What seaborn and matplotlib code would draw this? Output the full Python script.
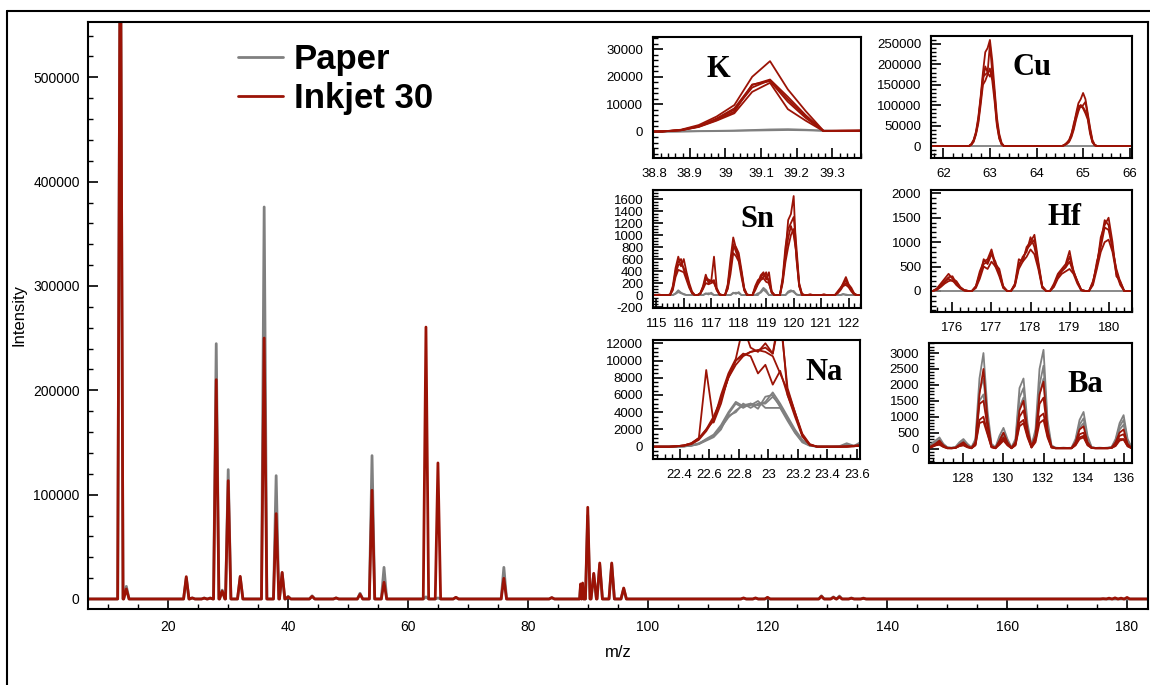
import numpy as np
import pandas as pd
import matplotlib
matplotlib.use("Agg")
import matplotlib.pyplot as plt
import seaborn as sns
from matplotlib.ticker import MultipleLocator, FuncFormatter
from matplotlib.lines import Line2D

# ---------------- data ----------------
# main spectrum: peak centres (m/z) and apex intensities
PEAK_MZ = [12, 13, 23, 24, 26, 27, 28, 29, 30, 32, 36, 38, 39, 40, 44, 48, 52, 54, 56,
           63, 65, 68, 76, 84, 88.8, 89.15, 90, 91, 92, 94, 96, 116, 118, 120,
           129, 131, 132, 134, 136, 176, 177, 178, 179, 180]
PAPER_H = [700000, 12100, 20000, 1000, 1000, 1000, 244700, 8500, 124000, 21000, 375700,
           118200, 25000, 2500, 3000, 1000, 5500, 137400, 30300,
           2000, 1000, 1500, 30300, 1300, 12000, 14000, 80000, 24000, 33000, 33500, 10000,
           800, 800, 1200, 3000, 2000, 2800, 1000, 900, 0, 0, 0, 0, 0]
INKJET_H = [700000, 9600, 21400, 1000, 800, 800, 210200, 7500, 113400, 21700, 250100,
            81800, 25500, 2000, 2500, 1000, 4500, 104200, 16000,
            260600, 130400, 1600, 19800, 1300, 14400, 15300, 87900, 24600, 34500, 34500, 10500,
            1000, 1000, 1600, 2500, 1500, 2000, 700, 600, 300, 800, 1100, 800, 1500]

# K inset
K_X = [38.775, 38.825, 38.875, 38.925, 38.975, 39.025, 39.075, 39.125, 39.175, 39.225,
       39.275, 39.325, 39.375, 39.425]
K_INK = [
    [0, 100, 700, 2400, 5500, 9700, 20000, 25700, 15400, 7500, 300, 400, 400, 500],
    [0, 100, 600, 2000, 4800, 8500, 17000, 19000, 12700, 6000, 300, 300, 400, 400],
    [0, 100, 500, 1800, 4200, 7300, 17200, 18400, 10900, 5000, 200, 300, 300, 400],
    [0, 100, 500, 1700, 4000, 6700, 14500, 17800, 8200, 4000, 200, 200, 300, 300],
    [0, 100, 550, 1900, 4500, 8000, 16100, 18800, 11800, 5500, 250, 300, 350, 400],
]
K_PAPER = [
    [0, 0, 100, 200, 300, 400, 600, 800, 900, 700, 400, 300, 300, 300],
    [0, 0, 50, 150, 200, 300, 400, 500, 600, 500, 300, 200, 200, 200],
]

# Cu inset
CU_X = [61.7, 62.55, 62.6, 62.65, 62.7, 62.75, 62.8, 62.85, 62.9, 62.95, 63.0, 63.05, 63.1,
        63.15, 63.2, 63.25, 63.3, 64.55, 64.6, 64.65, 64.7, 64.75, 64.8, 64.85, 64.9, 64.95,
        65.0, 65.05, 65.1, 65.15, 65.2, 65.25, 65.3, 66.1]
CU_INK = [
    [0, 0, 5000, 15000, 35000, 70000, 120000, 180000, 230000, 240000, 260000, 210000, 140000,
     70000, 30000, 8000, 0, 0, 3000, 8000, 15000, 30000, 50000, 80000, 105000, 115000,
     130000, 115000, 80000, 45000, 15000, 3000, 0, 0],
    [0, 0, 3000, 12000, 30000, 60000, 110000, 160000, 195000, 180000, 250000, 180000, 130000,
     60000, 25000, 5000, 0, 0, 2000, 6000, 12000, 25000, 45000, 70000, 100000, 95000,
     100000, 108000, 75000, 40000, 12000, 2000, 0, 0],
    [0, 0, 4000, 14000, 32000, 65000, 115000, 170000, 175000, 180000, 170000, 185000, 120000,
     55000, 20000, 5000, 0, 0, 2500, 7000, 13000, 28000, 55000, 75000, 90000, 100000,
     95000, 85000, 70000, 35000, 10000, 2000, 0, 0],
    [0, 0, 3000, 10000, 28000, 55000, 100000, 150000, 160000, 175000, 190000, 160000, 110000,
     50000, 18000, 4000, 0, 0, 2000, 5000, 10000, 22000, 40000, 65000, 85000, 100000,
     92000, 80000, 65000, 30000, 9000, 1500, 0, 0],
]
CU_PAPER_X = [61.7, 66.1]
CU_PAPER = [[0, 0]]

# Sn inset (grid 114.7 ... 122.4, step 0.1)
SN_X = np.round(np.arange(114.7, 122.45, 0.1), 2)
SN_INK = [
    [0, 0, 0, 0, 10, 0, 0, 0,
     10, 150, 450, 640, 480, 600, 380, 200, 60, 0,
     0, 20, 120, 300, 250, 230, 640, 120, 20, 0,
     0, 180, 600, 960, 780, 650, 350, 80, 0, 0,
     0, 100, 200, 330, 380, 260, 380, 60, 0, 0,
     0, 250, 700, 1250, 1350, 1650, 600, 150, 0, 0,
     0, 15, 0, 0, 0, 0, 15, 0, 0, 0,
     0, 40, 100, 200, 300, 180, 120, 30, 0, 0],
    [0, 0, 0, 0, 0, 0, 0, 0,
     0, 100, 400, 550, 600, 420, 350, 150, 40, 0,
     0, 30, 150, 340, 200, 250, 220, 100, 10, 0,
     0, 120, 450, 780, 800, 700, 420, 120, 10, 0,
     0, 150, 250, 280, 300, 380, 200, 40, 0, 0,
     0, 300, 800, 1100, 1200, 1300, 800, 200, 20, 0,
     0, 0, 0, 0, 0, 0, 0, 0, 0, 0,
     0, 60, 120, 180, 250, 150, 80, 20, 0, 0],
    [0, 0, 0, 0, 0, 0, 0, 0,
     0, 80, 300, 420, 400, 380, 250, 120, 30, 0,
     0, 20, 100, 200, 180, 200, 250, 80, 10, 0,
     0, 100, 350, 700, 650, 560, 300, 80, 0, 0,
     0, 80, 180, 250, 280, 220, 200, 40, 0, 0,
     0, 200, 550, 800, 1000, 1100, 650, 150, 10, 0,
     0, 0, 0, 0, 0, 0, 0, 0, 0, 0,
     0, 30, 80, 150, 170, 130, 60, 10, 0, 0],
    [0, 0, 0, 0, 0, 0, 0, 0,
     0, 120, 350, 500, 520, 450, 300, 150, 40, 0,
     0, 30, 130, 250, 260, 220, 200, 90, 10, 0,
     0, 150, 500, 850, 720, 600, 380, 100, 10, 0,
     0, 120, 220, 300, 350, 300, 250, 60, 0, 0,
     0, 250, 650, 950, 1150, 1000, 700, 180, 20, 0,
     0, 0, 0, 0, 0, 0, 0, 0, 0, 0,
     0, 50, 100, 160, 200, 160, 90, 20, 0, 0],
]
SN_PAPER = [
    [0, 0, 0, 0, 0, 0, 0, 0,
     0, 0, 30, 80, 40, 10, 0, 0, 0, 0,
     0, 0, 0, 30, 10, 40, 0, 0, 0, 0,
     0, 0, 0, 40, 20, 50, 0, 0, 0, 0,
     0, 0, 0, 60, 120, 80, 0, 0, 0, 0,
     0, 0, 0, 60, 80, 50, 10, 0, 0, 0,
     0, 0, 0, 0, 0, 0, 0, 0, 0, 0,
     0, 0, 0, 20, 0, 0, 0, 0, 0, 0],
    [0, 0, 0, 0, 0, 0, 0, 0,
     0, 0, 20, 50, 30, 20, 0, 0, 0, 0,
     0, 0, 0, 20, 30, 20, 0, 0, 0, 0,
     0, 0, 0, 30, 40, 30, 0, 0, 0, 0,
     0, 0, 30, 40, 90, 50, 0, 0, 0, 0,
     0, 0, 0, 40, 60, 70, 10, 0, 0, 0,
     0, 0, 0, 0, 0, 0, 0, 0, 0, 0,
     0, 0, 0, 10, 10, 0, 0, 0, 0, 0],
]

# Hf inset (grid 175.4 ... 180.6, step 0.1)
HF_X = np.round(np.arange(175.4, 180.65, 0.1), 2)
HF_INK = [
    [0,
     0, 50, 150, 250, 350, 250, 200, 80, 20, 0,
     0, 100, 400, 600, 650, 850, 550, 450, 100, 0,
     0, 150, 650, 600, 900, 1000, 1150, 600, 100, 0,
     0, 150, 350, 450, 550, 820, 400, 200, 20, 0,
     0, 200, 500, 1100, 1350, 1500, 1000, 300, 200, 0,
     0, 0],
    [0,
     0, 30, 120, 200, 280, 300, 150, 60, 10, 0,
     0, 80, 300, 650, 550, 750, 600, 350, 80, 0,
     0, 120, 500, 700, 800, 1100, 900, 500, 80, 0,
     0, 100, 300, 400, 480, 600, 380, 200, 20, 0,
     0, 150, 600, 900, 1300, 1250, 900, 400, 150, 0,
     0, 0],
    [0,
     0, 20, 80, 150, 200, 220, 120, 50, 10, 0,
     0, 60, 250, 500, 450, 600, 500, 300, 60, 0,
     0, 100, 450, 600, 700, 850, 750, 450, 60, 0,
     0, 80, 250, 350, 400, 450, 350, 150, 10, 0,
     0, 120, 450, 800, 1000, 1050, 800, 350, 120, 0,
     0, 0],
    [0,
     0, 40, 100, 180, 250, 200, 180, 70, 10, 0,
     0, 90, 350, 550, 600, 800, 500, 400, 70, 0,
     0, 130, 550, 650, 850, 950, 1050, 550, 90, 0,
     0, 120, 300, 420, 500, 700, 420, 180, 15, 0,
     0, 180, 550, 1000, 1450, 1350, 850, 450, 180, 0,
     0, 0],
]
HF_PAPER_X = [175.4, 180.6]
HF_PAPER = [[0, 0]]

# Na inset (grid 22.18 ... 23.63, step 0.05)
NA_X = np.round(np.arange(22.18, 23.655, 0.05), 3)
NA_INK = [
    [0, 0, 0, 0, 50, 150, 400, 1000, 2000, 3500, 5500, 8000, 9500, 10500, 11000,
     11200, 11000, 10500, 8500, 6500, 4000, 1500, 300, 0, 0, 0, 0, 50, 100, 200],
    [0, 0, 0, 0, 50, 150, 400, 1000, 8900, 2800, 5000, 8200, 10000, 10800, 10500,
     8500, 9500, 7200, 8800, 6000, 3500, 1200, 200, 0, 0, 0, 0, 0, 100, 150],
    [0, 0, 0, 0, 50, 150, 350, 900, 2000, 3000, 6000, 8500, 10200, 14000, 11500,
     11000, 12000, 10800, 15000, 6800, 4000, 1300, 200, 0, 0, 0, 0, 0, 50, 100],
    [0, 0, 0, 0, 50, 100, 300, 800, 1800, 3200, 5500, 8000, 10000, 10600, 11000,
     11200, 11500, 10800, 16000, 6000, 3800, 1300, 250, 0, 0, 0, 0, 0, 50, 150],
]
NA_PAPER = [
    [0, 0, 0, 0, 0, 50, 150, 400, 800, 1300, 2200, 3400, 4200, 4800, 5000,
     4800, 5200, 6300, 5000, 3500, 2000, 800, 200, 0, 0, 0, 50, 400, 100, 600],
    [0, 0, 0, 0, 0, 30, 120, 300, 700, 1100, 2000, 3800, 5000, 4500, 5000,
     4400, 5800, 6000, 4600, 3200, 1700, 600, 150, 0, 0, 0, 0, 200, 100, 300],
    [0, 0, 0, 0, 0, 40, 150, 350, 900, 1400, 2500, 4000, 5200, 4700, 4800,
     5300, 4500, 4500, 4500, 3000, 1600, 500, 100, 0, 0, 0, 0, 100, 50, 200],
    [0, 0, 0, 0, 0, 30, 120, 300, 800, 1200, 2300, 3600, 4000, 5000, 4500,
     5000, 5000, 5800, 4800, 3300, 1800, 700, 150, 0, 0, 0, 0, 150, 80, 250],
]

# Ba inset (grid 126.2 ... 136.4, step 0.2)
BA_X = np.round(np.arange(126.2, 136.45, 0.2), 2)
BA_PAPER = [
    [30, 150, 250, 350, 150, 40, 30, 50, 200, 300,
     150, 40, 300, 2200, 3000, 1200, 150, 40, 400, 650,
     300, 40, 300, 1900, 2200, 800, 100, 600, 2500, 3100,
     900, 100, 30, 20, 30, 20, 30, 300, 900, 1150,
     400, 50, 20, 30, 20, 30, 50, 300, 800, 1050, 300, 40],
    [20, 100, 200, 280, 120, 30, 20, 40, 150, 250,
     100, 30, 250, 1800, 2200, 900, 100, 30, 300, 500,
     250, 30, 250, 1600, 1900, 600, 80, 500, 2000, 2600,
     700, 80, 20, 20, 20, 20, 20, 250, 750, 950,
     300, 40, 20, 20, 20, 20, 40, 250, 700, 900, 250, 30],
    [20, 80, 180, 220, 100, 30, 20, 30, 120, 200,
     80, 30, 200, 1500, 1700, 700, 80, 30, 250, 400,
     200, 30, 200, 1300, 1600, 500, 60, 400, 1700, 2200,
     600, 60, 20, 20, 20, 20, 20, 200, 650, 800,
     250, 30, 20, 20, 20, 20, 30, 200, 600, 750, 200, 30],
]
BA_INK = [
    [20, 80, 150, 250, 100, 20, 20, 30, 120, 200,
     80, 20, 200, 1700, 2500, 900, 80, 20, 250, 500,
     200, 20, 200, 1200, 1500, 600, 60, 400, 1700, 2100,
     600, 60, 20, 20, 20, 20, 20, 200, 600, 700,
     200, 30, 20, 20, 20, 20, 30, 200, 500, 600, 150, 20],
    [10, 60, 120, 200, 80, 20, 10, 20, 100, 150,
     60, 20, 150, 1400, 1500, 700, 60, 20, 200, 350,
     150, 20, 150, 1000, 1200, 500, 50, 300, 1400, 1600,
     500, 50, 10, 10, 10, 10, 10, 150, 450, 500,
     150, 20, 10, 10, 10, 10, 20, 150, 400, 450, 120, 20],
    [10, 40, 100, 150, 60, 10, 10, 20, 80, 120,
     50, 10, 120, 900, 1000, 500, 50, 10, 150, 300,
     120, 10, 120, 800, 900, 400, 40, 250, 1000, 1100,
     400, 40, 10, 10, 10, 10, 10, 120, 350, 400,
     120, 20, 10, 10, 10, 10, 20, 100, 300, 300, 80, 10],
    [10, 50, 100, 120, 50, 10, 10, 20, 80, 100,
     40, 10, 100, 800, 850, 450, 40, 10, 120, 250,
     100, 10, 100, 700, 800, 350, 30, 200, 800, 900,
     350, 30, 10, 10, 10, 10, 10, 100, 300, 350,
     100, 20, 10, 10, 10, 10, 20, 80, 250, 280, 70, 10],
]

LEGEND_LABELS = ["Paper", "Inkjet 30"]

# ---------------- style ----------------
GRAY = "#808080"
RED = "#9B1306"
W, H = 1150, 685

sns.set_style("white")
plt.rcParams["font.family"] = ["Liberation Sans", "DejaVu Sans"]
plt.rcParams["axes.edgecolor"] = "black"
plt.rcParams["text.color"] = "black"
plt.rcParams["axes.labelcolor"] = "black"
plt.rcParams["xtick.color"] = "black"
plt.rcParams["ytick.color"] = "black"
plt.rcParams["xtick.direction"] = "in"
plt.rcParams["ytick.direction"] = "in"

fig = plt.figure(figsize=(W / 100, H / 100), dpi=100)

# outer frame (left and top edges visible)
fig.add_artist(Line2D([7 / W, 7 / W], [0, 1 - 11 / H], transform=fig.transFigure,
                      color="black", lw=1.5))
fig.add_artist(Line2D([7 / W, 1.0], [1 - 11 / H, 1 - 11 / H], transform=fig.transFigure,
                      color="black", lw=1.5))


def px_axes(l, t, r, b):
    return fig.add_axes([l / W, (H - b) / H, (r - l) / W, (b - t) / H])


fmt = FuncFormatter(lambda v, p: f"{round(v, 6):g}")


def style_axes(ax, xlim, ylim, xmaj, xmin, ymaj, ymin, fs, major_len=7, minor_len=3.5,
               xpad=7, ypad=7, lw=1.5):
    ax.set_xlim(*xlim)
    ax.set_ylim(*ylim)
    ax.xaxis.set_major_locator(MultipleLocator(xmaj))
    ax.xaxis.set_minor_locator(MultipleLocator(xmin))
    ax.yaxis.set_major_locator(MultipleLocator(ymaj))
    ax.yaxis.set_minor_locator(MultipleLocator(ymin))
    ax.xaxis.set_major_formatter(fmt)
    ax.yaxis.set_major_formatter(fmt)
    ax.tick_params(axis="both", which="both", direction="in", bottom=True, left=True,
                   top=False, right=False, colors="black")
    ax.tick_params(axis="both", which="major", length=major_len, width=1.2, labelsize=fs)
    ax.tick_params(axis="both", which="minor", length=minor_len, width=1.0)
    ax.tick_params(axis="x", which="major", pad=xpad)
    ax.tick_params(axis="y", which="major", pad=ypad)
    for s in ax.spines.values():
        s.set_visible(True)
        s.set_linewidth(lw)
        s.set_color("black")
    ax.set_xlabel("")
    ax.set_ylabel("")


# ---------------- main spectrum ----------------
def stick_spectrum(mz, h, x0, x1):
    xs, ys = [x0], [0.0]
    for i, (c, v) in enumerate(zip(mz, h)):
        gl = c - mz[i - 1] if i > 0 else 1.0
        gr = mz[i + 1] - c if i < len(mz) - 1 else 1.0
        w = min(0.45, 0.45 * gl, 0.45 * gr)
        xs += [c - w, c, c + w]
        ys += [0.0, v, 0.0]
    xs.append(x1)
    ys.append(0.0)
    return xs, ys


XL_MAIN = (6.6, 183.5)
ax = px_axes(88, 22, 1148, 609)
for heights, sample in [(PAPER_H, "Paper"), (INKJET_H, "Inkjet")]:
    xs, ys = stick_spectrum(PEAK_MZ, heights, *XL_MAIN)
    d = pd.DataFrame({"mz": xs, "I": ys, "sample": sample})
    sns.lineplot(data=d, x="mz", y="I", color=GRAY if sample == "Paper" else RED,
                 lw=2.0, estimator=None, sort=False, ax=ax)
style_axes(ax, XL_MAIN, (-9600, 553000), 20, 5, 100000, 20000, 10,
           major_len=7, minor_len=3.5, xpad=8, ypad=6)
ax.set_xlabel("m/z", fontsize=12, labelpad=8, color="black")
ax.set_ylabel("Intensity", fontsize=12, labelpad=5, color="black")

handles = [Line2D([], [], color=GRAY, lw=2), Line2D([], [], color=RED, lw=2)]
leg = ax.legend(handles, LEGEND_LABELS, loc="upper left",
                bbox_to_anchor=((238 - 88) / 1060, (609 - 43) / 587),
                frameon=False,
                prop={"family": "Liberation Sans", "weight": "bold", "size": 25},
                handlelength=1.3, handletextpad=0.3, labelspacing=0.17, borderpad=0,
                borderaxespad=0)
for t in leg.get_texts():
    t.set_color("black")


# ---------------- insets ----------------
def long_frame(xp, paper, xi, ink):
    rows = []
    for k, ys in enumerate(paper):
        rows.append(pd.DataFrame({"x": xp, "y": ys, "sample": "Paper", "rep": f"P{k}"}))
    for k, ys in enumerate(ink):
        rows.append(pd.DataFrame({"x": xi, "y": ys, "sample": "Inkjet", "rep": f"I{k}"}))
    return pd.concat(rows, ignore_index=True)


def inset(box, df, xlim, ylim, xmaj, xmin, ymaj, ymin, label, lab_xy):
    a = px_axes(*box)
    a.set_facecolor("white")
    sns.lineplot(data=df, x="x", y="y", hue="sample", units="rep", estimator=None,
                 hue_order=["Paper", "Inkjet"], palette={"Paper": GRAY, "Inkjet": RED},
                 lw=1.3, sort=False, legend=False, ax=a)
    style_axes(a, xlim, ylim, xmaj, xmin, ymaj, ymin, 9.5, major_len=7, minor_len=3.5,
               xpad=7, ypad=7, lw=1.5)
    fig.text(lab_xy[0] / W, 1 - lab_xy[1] / H, label, ha="center", va="baseline",
             fontfamily="Liberation Serif", fontweight="bold", fontsize=22, color="black")
    return a


inset((653, 37, 861, 158), long_frame(K_X, K_PAPER, K_X, K_INK),
      (38.797, 39.38), (-9600, 34500), 0.1, 0.02, 10000, 2000, "K", (718, 77))
inset((931, 36, 1132, 158), long_frame(CU_PAPER_X, CU_PAPER, CU_X, CU_INK),
      (61.735, 66.05), (-29400, 269600), 1, 0.2, 50000, 10000, "Cu", (1032, 75))
inset((653, 190, 861, 308), long_frame(SN_X, SN_PAPER, SN_X, SN_INK),
      (114.88, 122.45), (-215, 1750), 1, 0.2, 200, 50, "Sn", (757, 227))
inset((931, 190, 1132, 312), long_frame(HF_PAPER_X, HF_PAPER, HF_X, HF_INK),
      (175.45, 180.6), (-432, 2068), 1, 0.2, 500, 100, "Hf", (1064, 225))
inset((653, 340, 860, 459), long_frame(NA_X, NA_PAPER, NA_X, NA_INK),
      (22.22, 23.62), (-1430, 12380), 0.2, 0.05, 2000, 500, "Na", (824, 380))
inset((929, 343, 1132, 463), long_frame(BA_X, BA_PAPER, BA_X, BA_INK),
      (126.28, 136.42), (-452, 3314), 2, 0.5, 500, 100, "Ba", (1085, 392))

fig.savefig("out.png", dpi=100)
